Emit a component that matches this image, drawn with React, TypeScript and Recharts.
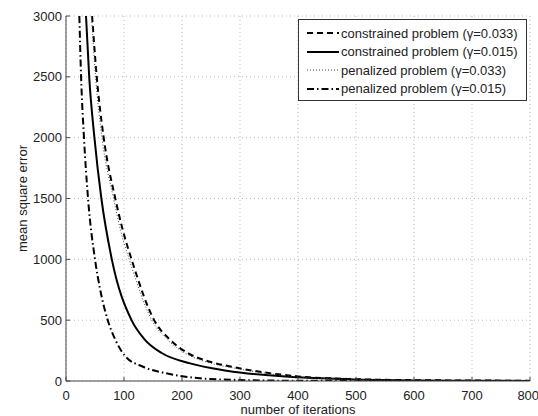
import { LineChart, Line, XAxis, YAxis, CartesianGrid } from 'recharts'

// iterations / mean square error
const conGamma033Iter = [45, 53, 65, 85, 98, 113, 152, 180, 211, 248, 288, 400, 500, 600, 700, 800]
const conGamma033Mse = [3000, 2500, 2000, 1500, 1238, 1000, 500, 336, 227, 158, 115, 38, 15, 7, 4, 2]

const conGamma015Iter = [34.5, 40, 49, 61, 79, 113, 135, 165, 214, 277, 400, 500, 600, 700, 800]
const conGamma015Mse = [3000, 2500, 2000, 1500, 1000, 500, 345, 230, 145, 85, 30, 12, 5, 3, 1]

const penGamma033Iter = [44, 51, 62, 82, 94, 109, 148, 177, 208, 245, 288, 400, 500, 600, 700, 800]
const penGamma033Mse = [3000, 2500, 2000, 1500, 1238, 1000, 500, 330, 222, 152, 108, 34, 13, 6, 3, 2]

const penGamma015Iter = [23, 26, 31, 38, 50, 59, 72, 85, 102, 133, 173, 231, 300, 400, 500, 800]
const penGamma015Mse = [3000, 2500, 2000, 1500, 1000, 750, 500, 340, 205, 117, 63, 22, 8, 2, 1, 0]

const xTicks = [0, 100, 200, 300, 400, 500, 600, 700, 800]
const yTicks = [0, 500, 1000, 1500, 2000, 2500, 3000]

const toPoints = (iters: number[], mse: number[]) => iters.map((it, i) => ({ it, mse: mse[i] }))

const series = [
  { name: 'constrained problem (γ=0.033)', data: toPoints(conGamma033Iter, conGamma033Mse), dash: '6 4', width: 2, color: '#000' },
  { name: 'constrained problem (γ=0.015)', data: toPoints(conGamma015Iter, conGamma015Mse), dash: undefined, width: 2, color: '#000' },
  { name: 'penalized problem (γ=0.033)', data: toPoints(penGamma033Iter, penGamma033Mse), dash: '1 2', width: 1, color: '#444' },
  { name: 'penalized problem (γ=0.015)', data: toPoints(penGamma015Iter, penGamma015Mse), dash: '7 3 1.5 3', width: 2, color: '#000' },
]

const axisColor = '#444'
const textStyle = { fontSize: 13, fill: '#222' }

function LegendBox() {
  return (
    <div
      style={{
        position: 'absolute',
        left: 298,
        top: 19,
        width: 227,
        height: 76,
        border: '1px solid #333',
        background: '#fff',
        paddingTop: 4,
      }}
    >
      {series.map(s => (
        <div key={s.name} style={{ display: 'flex', alignItems: 'center', height: 18.5 }}>
          <svg width={42} height={10} style={{ flex: 'none' }}>
            <line x1={8} x2={40} y1={5} y2={5} stroke={s.color} strokeWidth={s.width} strokeDasharray={s.dash} />
          </svg>
          <span style={{ fontSize: 13, color: '#222', whiteSpace: 'nowrap' }}>{s.name}</span>
        </div>
      ))}
    </div>
  )
}

export default function App() {
  return (
    <div style={{ position: 'absolute', left: 0, top: 0, width: 538, height: 416, fontFamily: '"Liberation Sans", Arial, sans-serif', background: '#fff' }}>
      <LineChart width={538} height={416} margin={{ top: 16, right: 8, bottom: 0, left: 16 }}>
        <CartesianGrid stroke="#bbb" strokeDasharray="1 3" />
        <XAxis
          dataKey="it"
          type="number"
          domain={[0, 800]}
          ticks={xTicks}
          allowDataOverflow
          height={35}
          stroke={axisColor}
          tickSize={-4}
          tickMargin={14}
          tick={textStyle}
          label={{ value: 'number of iterations', position: 'insideBottom', offset: 2, style: textStyle }}
        />
        <XAxis
          xAxisId="top"
          orientation="top"
          type="number"
          domain={[0, 800]}
          ticks={xTicks}
          allowDataOverflow
          height={0}
          stroke={axisColor}
          tickSize={-4}
          tick={false}
        />
        <YAxis
          type="number"
          domain={[0, 3000]}
          ticks={yTicks}
          allowDataOverflow
          width={50}
          stroke={axisColor}
          tickSize={-4}
          tickMargin={8}
          tick={textStyle}
          label={{ value: 'mean square error', angle: -90, position: 'insideLeft', offset: 6, style: { ...textStyle, textAnchor: 'middle' } }}
        />
        <YAxis
          yAxisId="right"
          orientation="right"
          type="number"
          domain={[0, 3000]}
          ticks={yTicks}
          allowDataOverflow
          width={0}
          stroke={axisColor}
          tickSize={-4}
          tick={false}
        />
        {series.map(s => (
          <Line
            key={s.name}
            data={s.data}
            dataKey="mse"
            name={s.name}
            type="monotone"
            stroke={s.color}
            strokeWidth={s.width}
            strokeDasharray={s.dash}
            dot={false}
            activeDot={false}
            isAnimationActive={false}
          />
        ))}
      </LineChart>
      <LegendBox />
    </div>
  )
}
